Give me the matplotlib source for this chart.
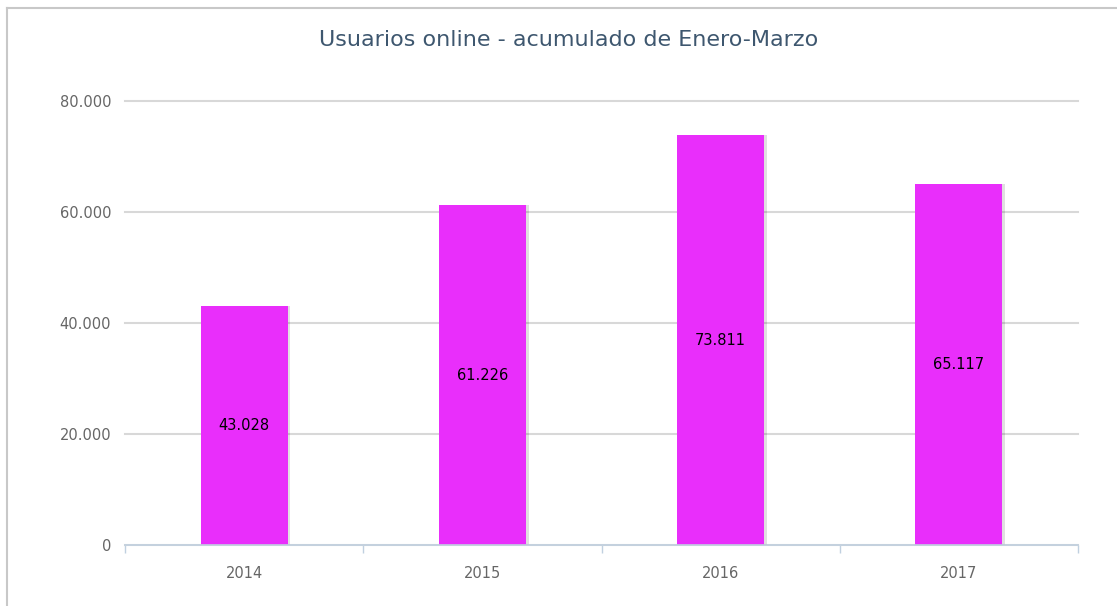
import matplotlib.pyplot as plt
from matplotlib.ticker import FuncFormatter, FixedLocator, NullFormatter
import numpy as np

years = ["2014", "2015", "2016", "2017"]
users = [43028, 61226, 73811, 65117]
y_ticks = [0, 20000, 40000, 60000, 80000]

bar_color = "#e92efb"
grid_color = "#d8d8d8"
axis_color = "#c0d0e0"
label_color = "#666666"

def thousands(v, pos=None):
    return "{:,.0f}".format(v).replace(",", ".")

fig = plt.figure(figsize=(11.17, 6.06), dpi=100)
W, H = 1117, 606

# outer chart border (top and left visible in the screenshot)
fig.add_artist(plt.Line2D([7 / W, 7 / W], [0, 1 - 8 / H], color="#c8c8c8", lw=1.5))
fig.add_artist(plt.Line2D([7 / W, 1], [1 - 8 / H, 1 - 8 / H], color="#c8c8c8", lw=1.5))

ax = fig.add_axes([125 / W, 1 - 545 / H, (1078 - 125) / W, (545 - 101) / H])

x = np.arange(len(years))
width = 0.365

# soft shadow behind bars
ax.bar(x + 0.012, users, width=width, color="#000000", alpha=0.12, zorder=2)
bars = ax.bar(x, users, width=width, color=bar_color, zorder=3)

for xi, v in zip(x, users):
    ax.text(xi, v / 2, thousands(v), ha="center", va="center",
            fontsize=10.5, color="black", zorder=4)

ax.set_xlim(-0.5, len(years) - 0.5)
ax.set_ylim(0, 80000)
ax.set_yticks(y_ticks)
ax.yaxis.set_major_formatter(FuncFormatter(thousands))
ax.grid(axis="y", color=grid_color, lw=1.5, zorder=0)
for gl in ax.get_ygridlines():
    gl.set_clip_on(False)
ax.set_axisbelow(True)

ax.xaxis.set_major_locator(FixedLocator(np.arange(-0.5, len(years), 1.0)))
ax.xaxis.set_major_formatter(NullFormatter())
ax.xaxis.set_minor_locator(FixedLocator(x))
ax.set_xticklabels(years, minor=True)
ax.tick_params(axis="x", which="major", length=6, color=axis_color, width=1, direction="out")
ax.tick_params(axis="x", which="minor", length=0, pad=15, labelsize=10.5, labelcolor=label_color)
ax.tick_params(axis="y", length=0, pad=10, labelsize=10.5, labelcolor=label_color)

for s in ["top", "right", "left"]:
    ax.spines[s].set_visible(False)
ax.spines["bottom"].set_color(axis_color)
ax.spines["bottom"].set_linewidth(1.2)
ax.spines["bottom"].set_zorder(5)

fig.text(569 / W, 1 - 40 / H, "Usuarios online - acumulado de Enero-Marzo",
         ha="center", va="center", fontsize=16, color="#3e576f")

fig.savefig("out.png", dpi=100)
